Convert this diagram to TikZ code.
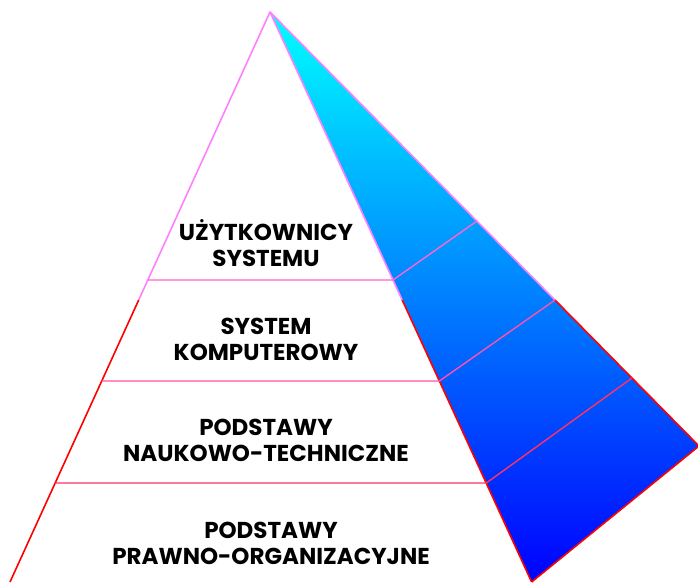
\documentclass[tikz,border=0pt]{standalone}
\usepackage{fontspec}
\setmainfont{Poppins}
\usetikzlibrary{positioning}
\definecolor{edgepink}{RGB}{255,128,255}
\definecolor{edgered}{RGB}{255,0,0}
\definecolor{linepink}{RGB}{255,100,210}
\definecolor{linerose}{RGB}{255,80,170}
\definecolor{linered}{RGB}{255,50,100}
\tikzstyle{layer}      = [align=center, font=\bfseries\fontsize{23}{26}\selectfont, inner sep=0pt]
\tikzstyle{edgetop}    = [draw=edgepink, line width=1.6pt, line join=round]
\tikzstyle{edgebottom} = [draw=edgered, line width=1.6pt, line join=round]
\tikzstyle{divider}    = [line width=1.4pt, line join=round]

\begin{document}
\begin{tikzpicture}[x=1pt,y=-1pt]
\useasboundingbox (0,0) rectangle (698,582);
% corners
\coordinate (apex) at (270,12);
\coordinate (bl) at (10,582);
\coordinate (bf) at (531.6,582);
\coordinate (br) at (699,446);
% levels on the three edges
\coordinate (l1) at (147.8,280);
\coordinate (f1) at (393,280);
\coordinate (b1) at (477,221);
\coordinate (l2) at (101.7,381);
\coordinate (f2) at (439.4,381);
\coordinate (b2) at (555,300);
\coordinate (l3) at (55.2,483);
\coordinate (f3) at (486.3,483);
\coordinate (b3) at (632,378);
% where the edges turn red
\coordinate (lmid) at (138.7,300);
\coordinate (fmid) at (402.2,300);

% side face
\shade[top color=cyan, bottom color=blue] (apex) -- (br) -- (bf) -- cycle;

% outline
\draw[edgetop] (lmid) -- (apex) -- (fmid);
\draw[edgetop] (apex) -- (b2);
\draw[edgebottom] (lmid) -- (bl);
\draw[edgebottom] (fmid) -- (bf);
\draw[edgebottom] (b2) -- (br) -- (bf);

% levels
\draw[divider, draw=linepink] (l1) -- (f1) -- (b1);
\draw[divider, draw=linerose] (l2) -- (f2) -- (b2);
\draw[divider, draw=linered] (l3) -- (f3) -- (b3);

\node[layer] (users) at (266,243) {UŻYTKOWNICY\\SYSTEMU};
\node[layer] (computer) at (266,339) {SYSTEM\\KOMPUTEROWY};
\node[layer] (science) at (266,440) {PODSTAWY\\NAUKOWO-TECHNICZNE};
\node[layer] (law) at (271,543) {PODSTAWY\\PRAWNO-ORGANIZACYJNE};
\end{tikzpicture}
\end{document}
